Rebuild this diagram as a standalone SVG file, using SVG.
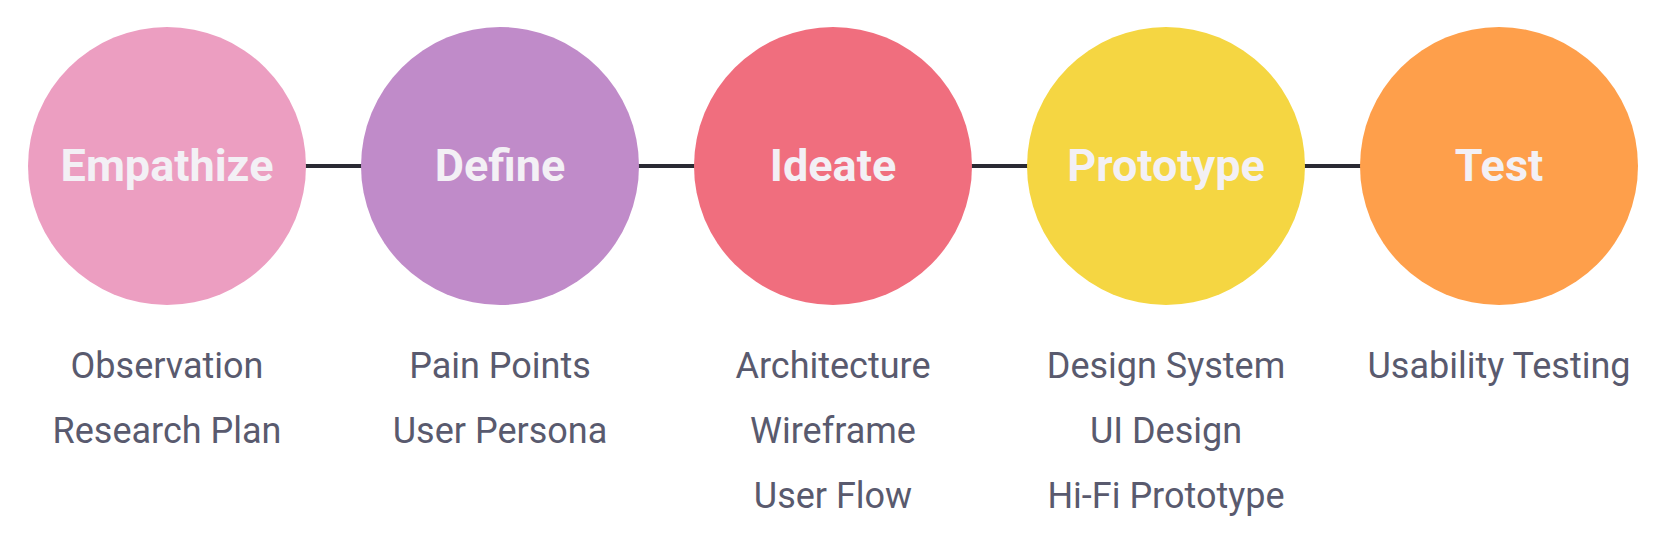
<svg xmlns="http://www.w3.org/2000/svg" width="1666" height="549" viewBox="0 0 1666 549">
<style>
.t{font-family:Roboto,"Liberation Sans",sans-serif;font-weight:bold;font-size:45px;fill:#F3F0F5;text-anchor:middle}
.s{font-family:Roboto,"Liberation Sans",sans-serif;font-size:36px;fill:#595A6E;text-anchor:middle}
</style>
<rect width="1666" height="549" fill="#fff"/>
<g id="connectors" stroke="#2A2A33" stroke-width="4">
<line x1="300" y1="166" x2="370" y2="166"/>
<line x1="633" y1="166" x2="703" y2="166"/>
<line x1="966" y1="166" x2="1036" y2="166"/>
<line x1="1299" y1="166" x2="1369" y2="166"/>
</g>
<g id="empathize"><circle cx="167" cy="166" r="139" fill="#EC9EC1"/><text class="t" x="167" y="181">Empathize</text>
<text class="s" x="167" y="378">Observation</text><text class="s" x="167" y="443">Research Plan</text></g>
<g id="define"><circle cx="500" cy="166" r="139" fill="#C08BC9"/><text class="t" x="500" y="181">Define</text>
<text class="s" x="500" y="378">Pain Points</text><text class="s" x="500" y="443">User Persona</text></g>
<g id="ideate"><circle cx="833" cy="166" r="139" fill="#F06E7E"/><text class="t" x="833" y="181">Ideate</text>
<text class="s" x="833" y="378">Architecture</text><text class="s" x="833" y="443">Wireframe</text><text class="s" x="833" y="508">User Flow</text></g>
<g id="prototype"><circle cx="1166" cy="166" r="139" fill="#F5D642"/><text class="t" x="1166" y="181">Prototype</text>
<text class="s" x="1166" y="378">Design System</text><text class="s" x="1166" y="443">UI Design</text><text class="s" x="1166" y="508">Hi-Fi Prototype</text></g>
<g id="test"><circle cx="1499" cy="166" r="139" fill="#FE9F4B"/><text class="t" x="1499" y="181">Test</text>
<text class="s" x="1499" y="378">Usability Testing</text></g>
</svg>
